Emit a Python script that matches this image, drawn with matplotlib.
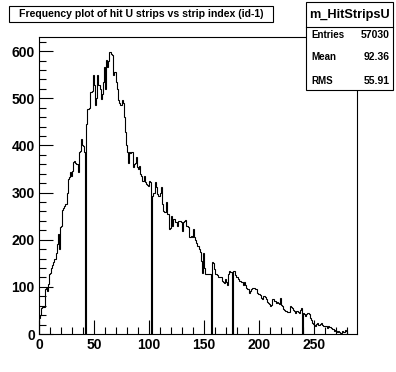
import numpy as np
import matplotlib
matplotlib.use('Agg')
import matplotlib.pyplot as plt
from matplotlib.patches import Rectangle
from matplotlib.ticker import MultipleLocator

plt.rcParams['font.family'] = ['Liberation Sans', 'DejaVu Sans']
plt.rcParams['font.weight'] = 'bold'

title = 'Frequency plot of hit U strips vs strip index (id-1)'
hist_name = 'm_HitStripsU'
stat_labels = ['Entries', 'Mean', 'RMS']
stat_values = ['57030', '92.36', '55.91']

# counts per strip index (zero bins = dead strips)
counts = [
    35, 40, 56, 57, 58, 96, 97, 92, 106, 128,
    130, 141, 146, 153, 160, 172, 190, 212, 181, 228,
    230, 262, 268, 272, 275, 300, 329, 332, 343, 336,
    345, 364, 366, 362, 360, 343, 386, 388, 414, 400,
    398, 386, 0, 446, 478, 480, 513, 513, 515, 549,
    528, 485, 500, 549, 528, 520, 499, 510, 535, 567,
    520, 581, 567, 580, 599, 595, 591, 549, 556, 556,
    535, 520, 496, 490, 486, 496, 490, 460, 428, 400,
    386, 362, 386, 384, 386, 354, 360, 362, 375, 355,
    350, 357, 340, 335, 325, 336, 322, 318, 316, 313,
    325, 322, 0, 293, 300, 322, 311, 297, 293, 293,
    300, 311, 276, 261, 258, 279, 254, 254, 223, 225,
    251, 229, 244, 244, 237, 229, 240, 240, 240, 238,
    219, 237, 240, 242, 230, 226, 205, 205, 207, 205,
    223, 205, 200, 194, 187, 180, 173, 155, 130, 171,
    141, 127, 127, 128, 127, 127, 0, 152, 150, 137,
    128, 127, 126, 120, 121, 121, 113, 111, 109, 116,
    110, 105, 127, 134, 132, 0, 134, 133, 125, 120,
    120, 116, 113, 113, 111, 105, 111, 105, 98, 95,
    95, 88, 92, 96, 97, 98, 95, 95, 88, 84,
    84, 82, 76, 74, 81, 78, 74, 68, 65, 63,
    60, 62, 74, 74, 70, 66, 68, 66, 63, 77,
    62, 60, 52, 50, 49, 47, 47, 47, 60, 58,
    56, 51, 48, 45, 49, 47, 45, 50, 55, 0,
    45, 42, 38, 42, 45, 42, 35, 30, 24, 22,
    20, 17, 22, 24, 20, 22, 24, 20, 18, 17,
    18, 16, 13, 17, 14, 13, 11, 10, 6, 8,
    7, 4, 6, 5, 3, 6, 5, 4, 8, 6,
    1,
]
edges = np.arange(len(counts) + 1)

W, H = 396, 372


def fx(x):
    return x / W


def fy(y):
    return 1 - y / H


fig = plt.figure(figsize=(W / 100, H / 100), dpi=100)
ax = fig.add_axes([fx(39), fy(334), (357 - 39) / W, (334 - 37) / H])
ax.stairs(counts, edges, color='black', lw=0.8)
ax.set_xlim(0, 289)
ax.set_ylim(0, 630)

ax.xaxis.set_major_locator(MultipleLocator(50))
ax.xaxis.set_minor_locator(MultipleLocator(10))
ax.yaxis.set_major_locator(MultipleLocator(100))
ax.yaxis.set_minor_locator(MultipleLocator(20))
ax.tick_params(which='both', direction='in', top=False, right=False, width=0.8)
ax.tick_params(which='major', length=10, labelsize=10, pad=3)
ax.tick_params(which='minor', length=5)
for s in ax.spines.values():
    s.set_linewidth(0.8)

# title box
fig.add_artist(Rectangle((fx(9), fy(22)), (273 - 9) / W, 16 / H, transform=fig.transFigure,
                         fc='white', ec='black', lw=0.8))
fig.text(fx(141), fy(14), title, ha='center', va='center', fontsize=7.6)

# stats box
fig.add_artist(Rectangle((fx(306), fy(90)), (393 - 306) / W, 88 / H, transform=fig.transFigure,
                         fc='white', ec='black', lw=0.8, zorder=5))
fig.add_artist(plt.Line2D([fx(306), fx(393)], [fy(27), fy(27)], transform=fig.transFigure,
                          color='black', lw=0.8, zorder=6))
fig.text(fx(349.5), fy(15), hist_name, ha='center', va='center', fontsize=9.2, zorder=7)
for i, (lab, val) in enumerate(zip(stat_labels, stat_values)):
    yy = 34.5 + i * 23
    fig.text(fx(311), fy(yy), lab, ha='left', va='center', fontsize=7, zorder=7)
    fig.text(fx(390), fy(yy), val, ha='right', va='center', fontsize=7.5, zorder=7)

fig.savefig('out.png', dpi=100)
